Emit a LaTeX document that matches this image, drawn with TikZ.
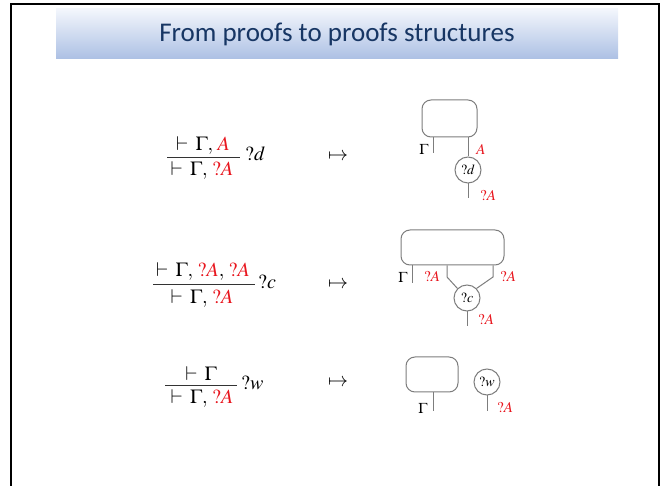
\documentclass[tikz,border=0pt]{standalone}
\usepackage{mathptmx}
\usepackage{fontspec}
\newfontfamily\titlefont{Carlito}
\definecolor{redA}{RGB}{232,22,30}
\definecolor{navy}{RGB}{23,54,100}
\definecolor{wire}{RGB}{125,125,125}
\definecolor{bandtop}{RGB}{243,246,252}
\definecolor{bandbot}{RGB}{172,192,228}
\newcommand{\seqvd}{\vdash\:}
\begin{document}
\begin{tikzpicture}[x=1pt,y=-1pt,
  math/.style={inner sep=0pt, font=\fontsize{20}{22}\selectfont},
  lbl/.style={inner sep=0pt, font=\fontsize{15}{17}\selectfont},
  wr/.style={draw=wire, line width=1pt},
  ruleline/.style={draw=black!80, line width=0.8pt},
  pbox/.style={draw=wire, line width=1pt, rounded corners=9pt, inner sep=0pt},
  gate/.style={circle, draw=wire, line width=1pt, minimum size=26pt, inner sep=0pt, font=\fontsize{14}{16}\selectfont},
  frame/.style={draw=black, line width=2pt}]
\useasboundingbox (0,0) rectangle (667,486);
% frame
\coordinate (fa) at (11,487);
\coordinate (fb) at (11,4);
\coordinate (fc) at (659,4);
\coordinate (fd) at (659,487);
\draw[frame] (fa) -- (fb) -- (fc) -- (fd);
% title
\node[minimum width=562pt, minimum height=50pt, inner sep=0pt,
      top color=bandtop, bottom color=bandbot,
      font=\titlefont\fontsize{27}{30}\selectfont, text=navy] (title) at (337,34) {From proofs to proofs structures};

% ---------- rule 1 : ?d
\node[math] (n1) at (203,145) {$\seqvd\Gamma,\,\textcolor{redA}{A}$};
\node[math] (d1) at (202,170) {$\seqvd\Gamma,\,\textcolor{redA}{?A}$};
\coordinate (l1a) at (167,157);
\coordinate (l1b) at (240,157);
\draw[ruleline] (l1a) -- (l1b);
\node[math, anchor=west] (r1) at (245,154) {$?d$};
\node[math] (m1) at (338,157) {$\mapsto$};
% diagram 1
\node[pbox, minimum width=55pt, minimum height=37pt] (b1) at (449.5,118.5) {};
\coordinate (g1) at (433,153);
\draw[wr] (g1 |- b1.south) -- (g1);
\node[gate] (c1) at (468,170) {$?d$};
\draw[wr] (c1 |- b1.south) -- (c1.north);
\coordinate (o1) at (468,198);
\draw[wr] (c1.south) -- (o1);
\node[lbl] (gl1) at (424,149) {$\Gamma$};
\node[lbl, text=redA] (al1) at (481,149) {$A$};
\node[lbl, text=redA] (ql1) at (488,196) {$?A$};

% ---------- rule 2 : ?c
\node[math] (n2) at (203,271) {$\seqvd\Gamma,\,\textcolor{redA}{?A},\,\textcolor{redA}{?A}$};
\node[math] (d2) at (202,298) {$\seqvd\Gamma,\,\textcolor{redA}{?A}$};
\coordinate (l2a) at (153,284);
\coordinate (l2b) at (255,284);
\draw[ruleline] (l2a) -- (l2b);
\node[math, anchor=west] (r2) at (258,282) {$?c$};
\node[math] (m2) at (338,285) {$\mapsto$};
% diagram 2
\node[pbox, minimum width=103pt, minimum height=35pt] (b2) at (452.5,247.5) {};
\coordinate (g2) at (412,283);
\draw[wr] (g2 |- b2.south) -- (g2);
\node[gate] (c2) at (467,298) {$?c$};
\coordinate (k2a) at (447,277);
\coordinate (k2b) at (493,277);
\draw[wr] (k2a |- b2.south) -- (k2a) -- (c2.north west);
\draw[wr] (k2b |- b2.south) -- (k2b) -- (c2.north east);
\coordinate (o2) at (467,326);
\draw[wr] (c2.south) -- (o2);
\node[lbl] (gl2) at (403,277) {$\Gamma$};
\node[lbl, text=redA] (al2) at (432,277) {$?A$};
\node[lbl, text=redA] (bl2) at (508,277) {$?A$};
\node[lbl, text=redA] (ql2) at (486,320) {$?A$};

% ---------- rule 3 : ?w
\node[math] (n3) at (201,374) {$\seqvd\Gamma$};
\node[math] (d3) at (202,398) {$\seqvd\Gamma,\,\textcolor{redA}{?A}$};
\coordinate (l3a) at (165,385);
\coordinate (l3b) at (237,385);
\draw[ruleline] (l3a) -- (l3b);
\node[math, anchor=west] (r3) at (241,383) {$?w$};
\node[math] (m3) at (338,383) {$\mapsto$};
% diagram 3
\node[pbox, minimum width=52pt, minimum height=35pt] (b3) at (432,374.5) {};
\coordinate (g3) at (433,411);
\draw[wr] (g3 |- b3.south) -- (g3);
\node[gate] (c3) at (487,382) {$?w$};
\coordinate (o3) at (487,411);
\draw[wr] (c3.south) -- (o3);
\node[lbl] (gl3) at (423,408) {$\Gamma$};
\node[lbl, text=redA] (ql3) at (505,408) {$?A$};
\end{tikzpicture}
\end{document}
